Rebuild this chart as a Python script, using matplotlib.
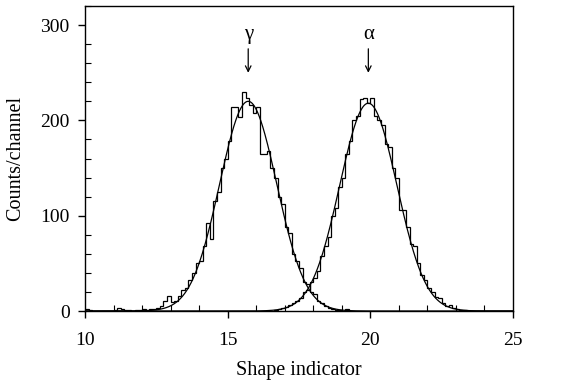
import numpy as np
import matplotlib.pyplot as plt
from matplotlib.ticker import MultipleLocator

# channel edges: 10 .. 25 in steps of 0.125
edge_lo, edge_hi, bin_w = 10.0, 25.0, 0.125

# gamma events, counts per channel starting at 10.0
gamma_counts = [
    2, 1, 0, 0, 0, 0, 0, 0, 1, 3, 2, 1, 1, 0, 1, 1, 2, 1, 2, 2,
    3, 5, 10, 16, 9, 11, 16, 22, 24, 33, 40, 50, 52, 68, 92, 76, 115, 125, 150, 160,
    178, 214, 214, 204, 230, 224, 216, 208, 214, 165, 165, 168, 150, 140, 120, 112, 88, 82, 60, 52,
    45, 30, 28, 20, 18, 10, 8, 5, 3, 2, 1, 1, 0, 2, 0,
]
# alpha events, counts per channel starting at 16.625
alpha_start = 16.625
alpha_counts = [
    1, 2, 3, 4, 6, 8, 10, 14, 20, 22, 30, 35, 42, 58, 68, 78, 100, 108, 130, 140,
    165, 178, 200, 205, 222, 224, 218, 224, 205, 200, 195, 175, 172, 150, 140, 106, 106, 88, 70, 68,
    50, 38, 33, 24, 20, 15, 14, 8, 5, 6, 3, 2, 1, 1, 0,
]

# gaussian fit parameters: amplitude, centroid, sigma
gamma_fit = (220.0, 15.72, 1.0)
alpha_fit = (218.0, 19.93, 1.0)

fig = plt.figure(figsize=(5.7, 3.84), dpi=100)
ax = fig.add_axes([85 / 570, 73 / 384, 428 / 570, 305 / 384])
serif = ['Liberation Serif', 'DejaVu Serif']

g_edges = edge_lo + bin_w * np.arange(len(gamma_counts) + 1)
a_edges = alpha_start + bin_w * np.arange(len(alpha_counts) + 1)
ax.stairs(gamma_counts, g_edges, color='black', lw=0.9)
ax.stairs(alpha_counts, a_edges, color='black', lw=0.9)

xs = np.linspace(edge_lo, edge_hi, 800)
for amp, mu, sig in (gamma_fit, alpha_fit):
    ax.plot(xs, amp * np.exp(-0.5 * ((xs - mu) / sig) ** 2), color='black', lw=0.9)

for lab, mu in (('γ', gamma_fit[1]), ('α', alpha_fit[1])):
    ax.annotate('', xy=(mu, 247), xytext=(mu, 278),
                arrowprops=dict(arrowstyle='->', color='black', lw=0.9))
    ax.text(mu, 290, lab, ha='center', va='center', fontsize=15, family=serif)

ax.set_xlim(edge_lo, edge_hi)
ax.set_ylim(0, 320)
ax.set_xticks([10, 15, 20, 25])
ax.set_yticks([0, 100, 200, 300])
ax.xaxis.set_minor_locator(MultipleLocator(1))
ax.yaxis.set_minor_locator(MultipleLocator(20))
ax.tick_params(which='major', direction='out', length=5, width=1, labelsize=14)
ax.tick_params(axis='x', which='major', pad=10)
ax.tick_params(axis='y', which='major', pad=6)
ax.tick_params(which='minor', direction='in', length=4, width=0.8)
for lab in ax.get_xticklabels() + ax.get_yticklabels():
    lab.set_family(serif)
for s in ax.spines.values():
    s.set_linewidth(1)

ax.set_xlabel('Shape indicator', fontsize=14.5, family=serif, labelpad=9)
ax.set_ylabel('Counts/channel', fontsize=14.5, family=serif, labelpad=11)

fig.savefig('out.png', dpi=100)
